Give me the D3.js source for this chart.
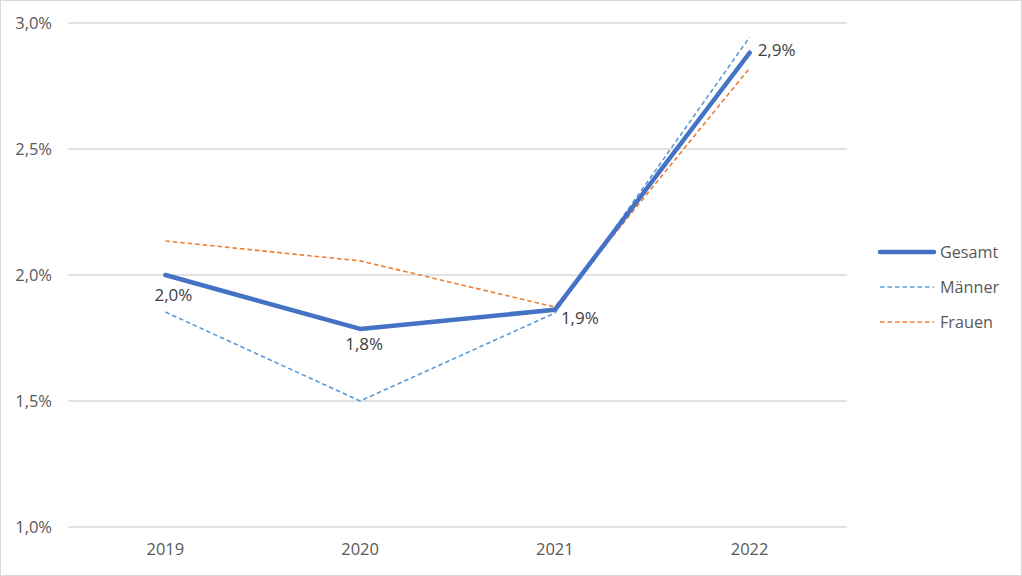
<!DOCTYPE html>
<html><head><meta charset="utf-8">
<script src="https://cdn.jsdelivr.net/npm/d3@7"></script>
<style>body{margin:0;background:#fff;} svg{display:block;}</style>
</head><body>
<script>
const categories = ["2019","2020","2021","2022"];
const gesamt = [2.0, 1.786, 1.862, 2.882];
const maenner = [1.853, 1.5, 1.849, 2.944];
const frauen = [2.135, 2.056, 1.873, 2.821];
const yTicks = [1.0, 1.5, 2.0, 2.5, 3.0];
const gesamtLabels = ["2,0%","1,8%","1,9%","2,9%"];
const seriesNames = ["Gesamt","Männer","Frauen"];

const W = 1022, H = 576;
const svg = d3.select("body").append("svg").attr("width", W).attr("height", H);
svg.append("rect").attr("x",0.5).attr("y",0.5).attr("width",W-1).attr("height",H-1)
  .attr("fill","#fff").attr("stroke","#d9d9d9");

const font = "'Open Sans', 'Liberation Sans', sans-serif";
const x = d3.scaleBand().domain(categories).range([68, 847]);
const y = d3.scaleLinear().domain([1.0, 3.0]).range([527, 23]);
const cx = d => x(d) + x.bandwidth()/2;

// gridlines
svg.append("g").selectAll("line").data(yTicks).join("line")
  .attr("x1", 68).attr("x2", 847)
  .attr("y1", d => y(d)).attr("y2", d => y(d))
  .attr("stroke", "#d9d9d9").attr("stroke-width", 1.3);

const fmt = d => d3.format(".1f")(d).replace(".", ",") + "%";
svg.append("g").selectAll("text").data(yTicks).join("text")
  .attr("x", 52).attr("y", d => y(d)).attr("dy", "0.35em")
  .attr("text-anchor", "end").attr("font-family", font).attr("font-size", 16.5)
  .attr("fill", "#595959").text(fmt);

svg.append("g").selectAll("text").data(categories).join("text")
  .attr("x", d => cx(d)).attr("y", 549).attr("dy","0.35em")
  .attr("text-anchor", "middle").attr("font-family", font).attr("font-size", 16.5)
  .attr("fill", "#595959").text(d => d);

const line = d3.line().x((d,i) => cx(categories[i])).y(d => y(d));

svg.append("path").datum(maenner).attr("d", line).attr("fill","none")
  .attr("stroke", "#5b9bd5").attr("stroke-width", 1.6).attr("stroke-dasharray", "4.5,3");
svg.append("path").datum(frauen).attr("d", line).attr("fill","none")
  .attr("stroke", "#ed7d31").attr("stroke-width", 1.6).attr("stroke-dasharray", "4.5,3");
svg.append("path").datum(gesamt).attr("d", line).attr("fill","none")
  .attr("stroke", "#4472c4").attr("stroke-width", 4.5).attr("stroke-linecap","round").attr("stroke-linejoin","round");

// data labels
const lblPos = [{dx:8, dy:20, a:"middle"},{dx:4, dy:15, a:"middle"},{dx:6, dy:8, a:"start"},{dx:8, dy:-3, a:"start"}];
svg.append("g").selectAll("text").data(gesamt).join("text")
  .attr("x", (d,i) => cx(categories[i]) + lblPos[i].dx)
  .attr("y", (d,i) => y(d) + lblPos[i].dy).attr("dy","0.35em")
  .attr("text-anchor", (d,i) => lblPos[i].a)
  .attr("font-family", font).attr("font-size", 17).attr("fill", "#404040")
  .text((d,i) => gesamtLabels[i]);

// legend
const legStyles = [
  {c:"#4472c4", w:4.5, dash:null},
  {c:"#5b9bd5", w:1.6, dash:"4.5,3"},
  {c:"#ed7d31", w:1.6, dash:"4.5,3"}
];
const legY = [252, 287, 322];
const lg = svg.append("g");
seriesNames.forEach((n,i) => {
  const l = lg.append("line").attr("x1", 880).attr("x2", 934).attr("y1", legY[i]).attr("y2", legY[i])
    .attr("stroke", legStyles[i].c).attr("stroke-width", legStyles[i].w).attr("stroke-linecap", legStyles[i].dash ? "butt" : "round");
  if (legStyles[i].dash) l.attr("stroke-dasharray", legStyles[i].dash);
  lg.append("text").attr("x", 940).attr("y", legY[i]).attr("dy","0.35em")
    .attr("font-family", font).attr("font-size", 16.2).attr("fill", "#595959").text(n);
});
</script>
</body></html>
